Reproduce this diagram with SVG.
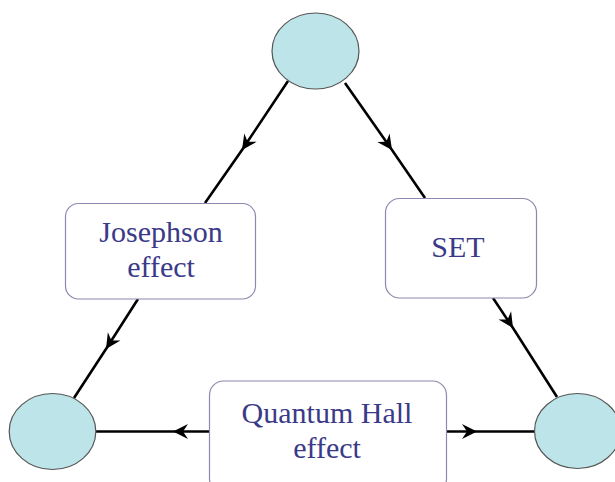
<svg xmlns="http://www.w3.org/2000/svg" width="615" height="482" viewBox="0 0 615 482">
<defs>
<style>
.edge{fill:none;stroke:#000;stroke-width:2.6;marker-mid:url(#arr)}
.dot{fill:#bde4e8;stroke:#555;stroke-width:1.2}
.box{fill:#fff;stroke:#8a8aae;stroke-width:1.2}
.lbl{font-size:30px;fill:#3a3a88;text-anchor:middle}
</style>
<marker id="arr" viewBox="-16 -9 18 18" refX="0" refY="0" markerWidth="18" markerHeight="18" markerUnits="userSpaceOnUse" orient="auto">
<path d="M-15,-7.5 L0,0 L-15,7.5 L-10,0 z" fill="#000"/>
</marker>
</defs>
<rect width="615" height="482" fill="#fff"/>
<g id="connectors">
<path class="edge" d="M288,81 L242,150 L205,203"/>
<path class="edge" d="M345,83 L392,150 L425,198"/>
<path class="edge" d="M138,299 L106,349 L74,398"/>
<path class="edge" d="M493,298 L513,328 L557,397"/>
<path class="edge" d="M209,431.5 L173,431.5 L96,431.5"/>
<path class="edge" d="M447,431.5 L477,431.5 L534,431.5"/>
</g>
<g id="top"><ellipse class="dot" cx="315.5" cy="51" rx="43.5" ry="38"/></g>
<g id="left"><ellipse class="dot" cx="52.5" cy="431.5" rx="43.3" ry="38"/></g>
<g id="right"><ellipse class="dot" cx="577.5" cy="431" rx="43" ry="37.5"/></g>
<g id="josephson" font-family="'Liberation Serif', 'Times New Roman', serif">
<rect class="box" x="65.5" y="203.5" width="190" height="95.5" rx="13"/>
<text class="lbl" x="161" y="242">Josephson</text>
<text class="lbl" x="161" y="277">effect</text>
</g>
<g id="set" font-family="'Liberation Serif', 'Times New Roman', serif">
<rect class="box" x="385.5" y="198.5" width="151" height="99.5" rx="14"/>
<text class="lbl" x="458" y="257">SET</text>
</g>
<g id="qhe" font-family="'Liberation Serif', 'Times New Roman', serif">
<rect class="box" x="209.5" y="381" width="237" height="112" rx="14"/>
<text class="lbl" x="327" y="423">Quantum Hall</text>
<text class="lbl" x="327" y="458">effect</text>
</g>
</svg>
